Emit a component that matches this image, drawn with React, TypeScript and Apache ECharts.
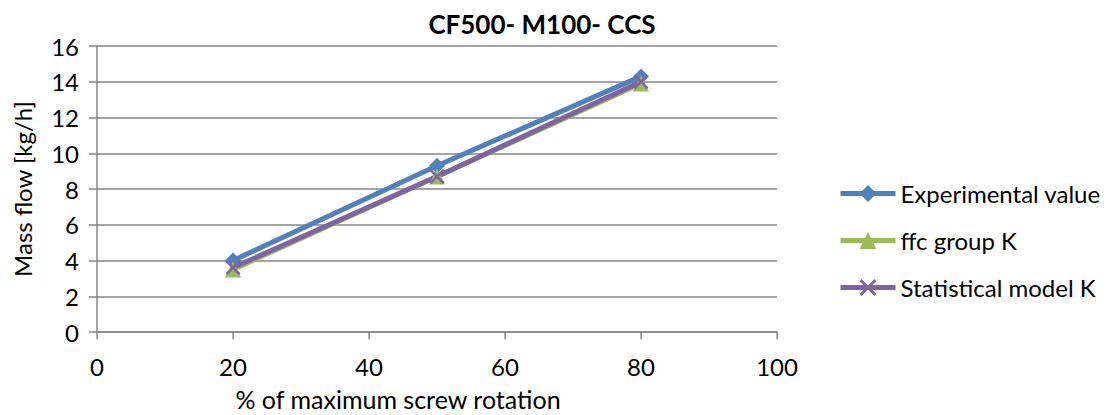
import React, { useEffect, useRef } from "react";
import * as echarts from "echarts";

const rotation = [20, 50, 80];
const experimental = [4.0, 9.3, 14.3];
const ffcGroupK = [3.5, 8.7, 13.9];
const statisticalK = [3.6, 8.7, 14.0];
const seriesNames = ["Experimental value", "ffc group K", "Statistical model K"];

const FONT = "Lato, 'Liberation Sans', sans-serif";
const GRID = "#868686";
const TEXT_SIZE = 24;

const CROSS =
  "path://M0,1.2 L1.2,0 L5,3.8 L8.8,0 L10,1.2 L6.2,5 L10,8.8 L8.8,10 L5,6.2 L1.2,10 L0,8.8 L3.8,5 Z";

const toPairs = (ys: number[]) => rotation.map((x, i) => [x, ys[i]]);

export default function App() {
  const ref = useRef<HTMLDivElement>(null);

  useEffect(() => {
    document.body.style.margin = "0";
    const chart = echarts.init(ref.current!, null, { renderer: "svg" });
    chart.setOption({
      animation: false,
      backgroundColor: "#ffffff",
      textStyle: { fontFamily: FONT },
      title: {
        text: "CF500- M100- CCS",
        left: 537,
        top: 6,
        textAlign: "center",
        textStyle: { fontFamily: FONT, fontSize: 26, fontWeight: "bold", color: "#000" },
      },
      grid: { left: 97, right: 340, top: 46, bottom: 83 },
      xAxis: {
        type: "value",
        min: 0,
        max: 100,
        interval: 20,
        axisLine: { lineStyle: { color: GRID, width: 1.5 } },
        axisTick: { show: true, length: 7, lineStyle: { color: GRID, width: 1.5 } },
        splitLine: { show: false },
        axisLabel: { fontFamily: FONT, fontSize: TEXT_SIZE, color: "#000", margin: 22 },
      },
      yAxis: {
        type: "value",
        min: 0,
        max: 16,
        interval: 2,
        axisLine: { show: true, lineStyle: { color: GRID, width: 1.5 } },
        axisTick: { show: true, length: 8, lineStyle: { color: GRID, width: 1.5 } },
        splitLine: { show: true, lineStyle: { color: GRID, width: 1.5 } },
        axisLabel: { fontFamily: FONT, fontSize: TEXT_SIZE, color: "#000", margin: 18 },
      },
      legend: {
        orient: "vertical",
        left: 833,
        top: 176,
        itemWidth: 55,
        itemHeight: 21,
        itemGap: 22,
        lineStyle: { width: 5 },
        textStyle: { fontFamily: FONT, fontSize: TEXT_SIZE, color: "#000", lineHeight: 25 },
        data: seriesNames,
      },
      graphic: [
        {
          type: "text",
          x: 398,
          y: 399,
          style: {
            text: "% of maximum screw rotation",
            font: `25px ${FONT}`,
            fill: "#000",
            textAlign: "center",
            textVerticalAlign: "middle",
          },
        },
        {
          type: "text",
          x: 22,
          y: 189,
          rotation: Math.PI / 2,
          style: {
            text: "Mass flow [kg/h]",
            font: `${TEXT_SIZE}px ${FONT}`,
            fill: "#000",
            textAlign: "center",
            textVerticalAlign: "middle",
          },
        },
      ],
      series: [
        {
          name: seriesNames[0],
          type: "line",
          data: toPairs(experimental),
          symbol: "diamond",
          symbolSize: 16,
          lineStyle: { color: "#4F81BD", width: 5 },
          itemStyle: { color: "#4F81BD" },
        },
        {
          name: seriesNames[1],
          type: "line",
          data: toPairs(ffcGroupK),
          symbol: "triangle",
          symbolSize: 16,
          lineStyle: { color: "#9BBB59", width: 5 },
          itemStyle: { color: "#9BBB59" },
        },
        {
          name: seriesNames[2],
          type: "line",
          data: toPairs(statisticalK),
          symbol: CROSS,
          symbolSize: 15,
          lineStyle: { color: "#8064A2", width: 5 },
          itemStyle: { color: "#8064A2" },
        },
      ],
    });
    return () => chart.dispose();
  }, []);

  return <div ref={ref} style={{ width: 1117, height: 415 }} />;
}
